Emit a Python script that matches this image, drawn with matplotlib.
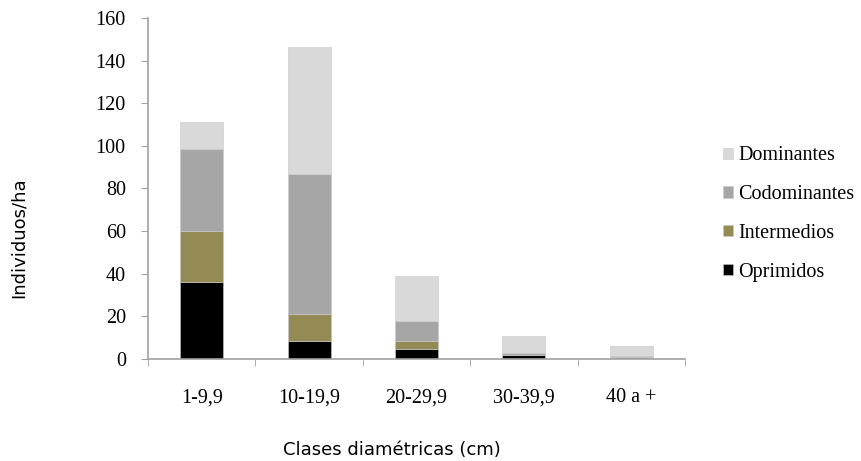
import numpy as np
import matplotlib.pyplot as plt

clases = ['1-9,9', '10-19,9', '20-29,9', '30-39,9', '40 a +']
oprimidos = [36, 8.5, 4.8, 1.7, 0.3]
intermedios = [24, 12.7, 3.7, 0.3, 0.5]
codominantes = [38.4, 65.8, 9.4, 1.0, 0.5]
dominantes = [13, 59.4, 21.1, 7.7, 4.8]

series = [('Oprimidos', oprimidos, '#000000'),
          ('Intermedios', intermedios, '#948a54'),
          ('Codominantes', codominantes, '#a6a6a6'),
          ('Dominantes', dominantes, '#d9d9d9')]

fig = plt.figure(figsize=(8.62, 4.61), dpi=100)
ax = fig.add_axes([0.1717, 0.2213, 0.623, 0.7397])

x = np.arange(len(clases))
bottom = np.zeros(len(clases))
handles = []
for name, vals, col in series:
    b = ax.bar(x, vals, width=0.4, bottom=bottom, color=col, label=name,
               edgecolor='#c8c8c8', linewidth=0.4)
    handles.append(b)
    bottom += np.array(vals)

ax.set_xlim(-0.5, len(clases) - 0.5)
ax.set_ylim(0, 160)
ax.set_yticks(np.arange(0, 161, 20))
ax.set_xticks(x)
ax.set_xticklabels(clases)
ax.set_xticks(np.arange(-0.5, len(clases), 1), minor=True)
ax.tick_params(axis='x', which='major', length=0, pad=21)
ax.tick_params(axis='x', which='minor', length=5, color='#a0a0a0', direction='out')
ax.tick_params(axis='y', length=5, color='#a0a0a0', pad=11)

for lab in ax.get_xticklabels() + ax.get_yticklabels():
    lab.set_fontfamily('Liberation Serif')
    lab.set_fontsize(14.5)

for s in ['top', 'right']:
    ax.spines[s].set_visible(False)
for s in ['left', 'bottom']:
    ax.spines[s].set_color('#a0a0a0')
    ax.spines[s].set_linewidth(1.2)

ax.set_ylabel('Individuos/ha', fontsize=13, fontfamily='DejaVu Sans')
ax.set_xlabel('Clases diamétricas (cm)', fontsize=13, fontfamily='DejaVu Sans')
ax.yaxis.set_label_coords(-0.2247, 0.355)
ax.xaxis.set_label_coords(0.455, -0.24)

fig.legend(handles[::-1], [s[0] for s in series][::-1], loc='center left',
           bbox_to_anchor=(705 / 862, (461 - 214) / 461), frameon=False,
           handlelength=0.5, handleheight=0.5, handletextpad=0.25,
           labelspacing=0.98, prop={'family': 'Liberation Serif', 'size': 14.5})

fig.savefig('out.png', dpi=100)
